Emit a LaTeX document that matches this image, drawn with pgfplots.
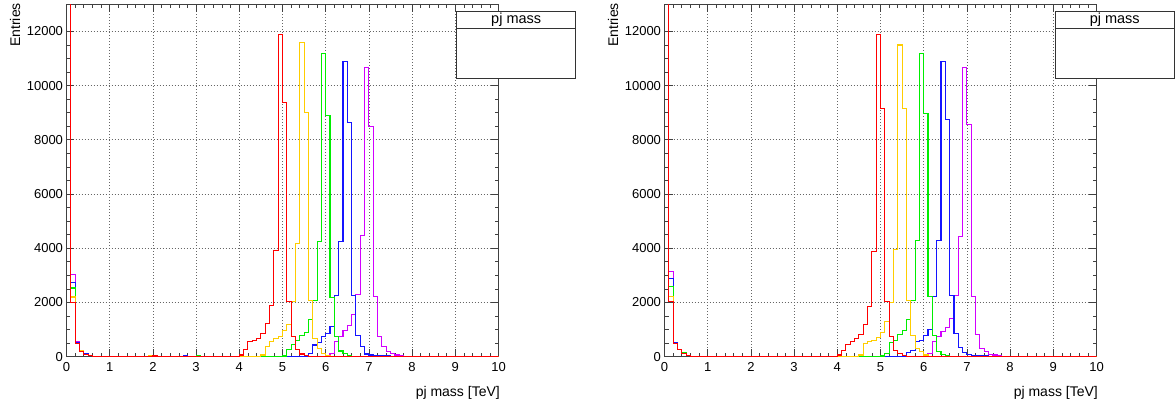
\documentclass[border=0pt]{standalone}
\usepackage{fontspec}
\setmainfont{Liberation Sans}
\usepackage{pgfplots}
\pgfplotsset{compat=1.18}

\definecolor{hred}{RGB}{255,0,0}
\definecolor{hyellow}{RGB}{255,205,0}
\definecolor{hgreen}{RGB}{0,238,0}
\definecolor{hblue}{RGB}{20,20,255}
\definecolor{hmagenta}{RGB}{210,0,255}

% Common frame for both pads: 0.1 TeV bins, ROOT-like inside ticks and dotted grid
\pgfplotsset{rootpad/.style={
  scale only axis, width=432pt, height=352.5pt,
  anchor=south west,
  xmin=0, xmax=10, ymin=0, ymax=13000,
  xtick={0,1,...,10}, ytick={0,2000,...,12000},
  minor x tick num=4, minor y tick num=3,
  tick align=inside,
  major tick length=8pt, minor tick length=4pt,
  grid=major,
  major grid style={black!60, line width=0.6pt, dash pattern=on 1pt off 2pt},
  axis line style={black!75, line width=0.8pt},
  every tick/.style={black!75, line width=0.6pt},
  tick label style={font=\fontsize{13}{13}\selectfont},
  xticklabel style={yshift=-2pt},
  /pgf/number format/assume math mode=true,
  /pgf/number format/1000 sep={},
  scaled y ticks=false,
  every axis plot/.append style={line width=1.1pt, const plot, mark=none},
}}

\begin{document}
\begin{tikzpicture}[x=1pt, y=1pt]
\useasboundingbox (0,0) rectangle (1175,410);

% ---------------- left pad ----------------
\begin{axis}[rootpad, at={(66.5pt,53.3pt)}]
\addplot[hmagenta] coordinates {
(0.0,15000) (0.1,3028) (0.2,560) (0.3,230) (0.4,100) (0.5,45) (0.6,20)
(6.0,25) (6.1,123) (6.2,552) (6.3,761) (6.4,957) (6.5,1166) (6.6,1571)
(6.7,2307) (6.8,4479) (6.9,10650) (7.0,8491) (7.1,2209) (7.2,761)
(7.3,368) (7.4,184) (7.5,123) (7.6,61) (7.7,25) (7.8,10) (8.2,0) (10.0,0)};
\addplot[hblue] coordinates {
(0.0,15000) (0.1,2745) (0.2,520) (0.3,220) (0.4,100) (0.5,40) (0.6,20)
(2.7,45) (2.8,20) (5.5,25) (5.6,123) (5.7,430) (5.8,515) (5.9,736)
(6.0,859) (6.1,1104) (6.2,2245) (6.3,4233) (6.4,10871) (6.5,8626)
(6.6,2270) (6.7,798) (6.8,368) (6.9,98) (7.0,61) (7.1,25) (7.5,10)
(8.0,0) (10.0,0)};
\addplot[hgreen] coordinates {
(0.0,15000) (0.1,2535) (0.2,500) (0.3,210) (0.4,95) (0.5,40) (0.6,20)
(3.0,40) (3.1,20) (5.0,25) (5.1,270) (5.2,466) (5.3,613) (5.4,798)
(5.5,896) (5.6,1374) (5.7,2086) (5.8,4233) (5.9,11190) (6.0,8896)
(6.1,2172) (6.2,761) (6.3,209) (6.4,123) (6.5,60) (6.6,20) (7.5,5)
(8.0,0) (10.0,0)};
\addplot[hyellow] coordinates {
(0.0,15000) (0.1,2200) (0.2,500) (0.3,210) (0.4,90) (0.5,40) (0.6,20)
(1.9,35) (2.0,20) (4.5,61) (4.6,368) (4.7,552) (4.8,675) (4.9,761)
(5.0,982) (5.1,1202) (5.2,2025) (5.3,4172) (5.4,11595) (5.5,8994)
(5.6,2086) (5.7,675) (5.8,307) (5.9,123) (6.0,40) (6.1,15) (7.0,5)
(8.0,0) (10.0,0)};
\addplot[hred] coordinates {
(0.0,15000) (0.1,2000) (0.2,480) (0.3,200) (0.4,90) (0.5,40) (0.6,20)
(1.0,15) (2.0,25) (2.1,15) (3.0,20) (4.0,61) (4.1,270) (4.2,552)
(4.3,589) (4.4,675) (4.5,859) (4.6,1227) (4.7,1902) (4.8,3926)
(4.9,11877) (5.0,9374) (5.1,2025) (5.2,761) (5.3,270) (5.4,100)
(5.5,40) (5.6,15) (6.0,10) (8.0,0) (10.0,0)};
\end{axis}

% ---------------- right pad ----------------
\begin{axis}[rootpad, at={(664.5pt,53.3pt)}]
\addplot[hmagenta] coordinates {
(0.0,15000) (0.1,3128) (0.2,540) (0.3,260) (0.4,140) (0.5,50) (0.6,20)
(6.0,25) (6.1,123) (6.2,552) (6.3,761) (6.4,920) (6.5,1080) (6.6,1411)
(6.7,2270) (6.8,4417) (6.9,10650) (7.0,8552) (7.1,2209) (7.2,834)
(7.3,307) (7.4,184) (7.5,86) (7.6,61) (7.7,25) (7.8,10) (8.1,15)
(8.2,0) (10.0,0)};
\addplot[hblue] coordinates {
(0.0,15000) (0.1,2869) (0.2,520) (0.3,260) (0.4,140) (0.5,50) (0.6,20)
(5.5,25) (5.6,160) (5.7,221) (5.8,552) (5.9,589) (6.0,798) (6.1,1006)
(6.2,2233) (6.3,4295) (6.4,10871) (6.5,8749) (6.6,2270) (6.7,859)
(6.8,344) (6.9,147) (7.0,86) (7.1,30) (7.5,10) (8.0,0) (10.0,0)};
\addplot[hgreen] coordinates {
(0.0,15000) (0.1,2597) (0.2,500) (0.3,260) (0.4,135) (0.5,50) (0.6,20)
(5.0,25) (5.1,123) (5.2,515) (5.3,589) (5.4,834) (5.5,957) (5.6,1374)
(5.7,2061) (5.8,4270) (5.9,11190) (6.0,8957) (6.1,2209) (6.2,798)
(6.3,184) (6.4,86) (6.5,30) (6.6,15) (7.5,5) (8.0,0) (10.0,0)};
\addplot[hyellow] coordinates {
(0.0,15000) (0.1,2228) (0.2,500) (0.3,250) (0.4,130) (0.5,50) (0.6,20)
(4.5,61) (4.6,491) (4.7,577) (4.8,613) (4.9,712) (5.0,883) (5.1,1288)
(5.2,1988) (5.3,3951) (5.4,11497) (5.5,9141) (5.6,2086) (5.7,798)
(5.8,307) (5.9,184) (6.0,61) (6.1,20) (7.0,5) (8.0,0) (10.0,0)};
\addplot[hred] coordinates {
(0.0,15000) (0.1,2043) (0.2,480) (0.3,250) (0.4,130) (0.5,50) (0.6,20)
(4.0,61) (4.1,245) (4.2,466) (4.3,577) (4.4,675) (4.5,834) (4.6,1202)
(4.7,1865) (4.8,3890) (4.9,11877) (5.0,9166) (5.1,2025) (5.2,736)
(5.3,245) (5.4,123) (5.5,40) (5.6,15) (6.0,10) (8.0,0) (10.0,0)};
\end{axis}

% axis titles
\node[rotate=90, anchor=east, inner sep=0pt, font=\fontsize{14}{14}\selectfont] at (15,407) {Entries};
\node[rotate=90, anchor=east, inner sep=0pt, font=\fontsize{14}{14}\selectfont] at (613,407) {Entries};
\node[anchor=east, inner sep=0pt, font=\fontsize{14}{14}\selectfont] at (500,17) {pj mass [TeV]};
\node[anchor=east, inner sep=0pt, font=\fontsize{14}{14}\selectfont] at (1098,17) {pj mass [TeV]};

% statistics boxes
\foreach \xl/\xr in {456.7/575.7, 1055/1174.5}{
  \draw[black!80, line width=0.8pt, fill=white] (\xl,331.3) rectangle (\xr,398.3);
  \draw[black!80, line width=0.8pt] (\xl,381.7) -- (\xr,381.7);
  \node[font=\fontsize{14.5}{14.5}\selectfont] at ({(\xl+\xr)/2},390) {pj mass};
}
\end{tikzpicture}
\end{document}
